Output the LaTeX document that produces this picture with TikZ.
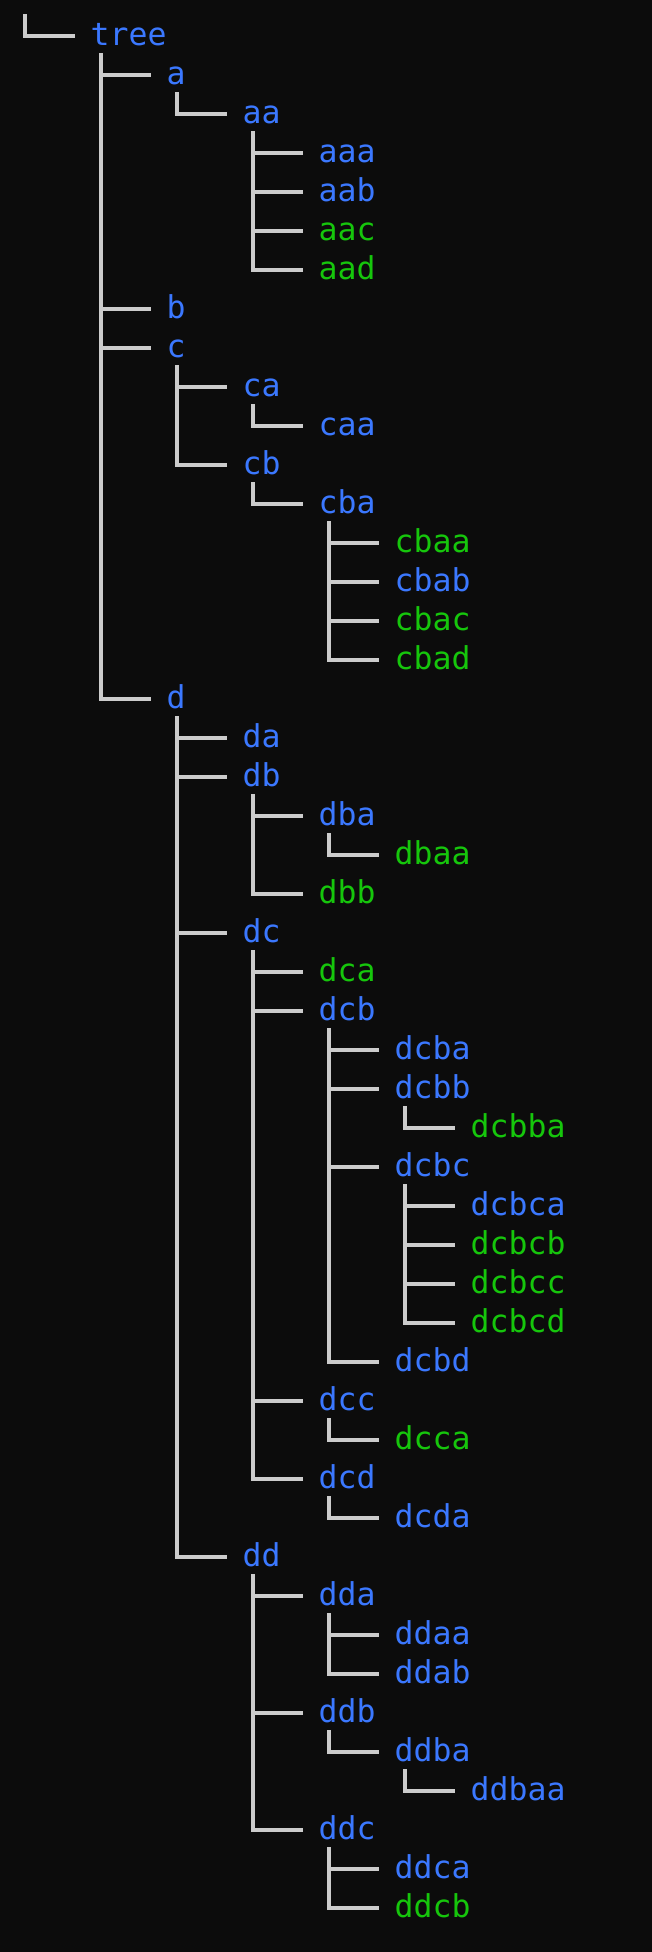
\documentclass[tikz,border=0pt]{standalone}
\usepackage{fontspec}
\setmonofont{DejaVu Sans Mono}
\definecolor{bg}{HTML}{0C0C0C}
\definecolor{dirblue}{HTML}{3B78FF}
\definecolor{exegreen}{HTML}{16C60C}
\definecolor{linegray}{HTML}{CCCCCC}
\begin{document}
\begin{tikzpicture}[x=1pt,y=1pt,
  entry/.style={inner sep=0pt, outer sep=0pt, anchor=base west, font=\ttfamily\fontsize{31.5}{39}\selectfont},
  dir/.style={entry, text=dirblue},
  exe/.style={entry, text=exegreen},
  conn/.style={draw=linegray, line width=3.5pt, line cap=butt, line join=miter}]
\fill[bg] (0,0) rectangle (652,-1952);
\useasboundingbox (0,0) rectangle (652,-1952);
\coordinate (origin) at (25,-14);
\foreach \n/\l/\r/\s in {tree/0/0/dir, a/1/1/dir, aa/2/2/dir, aaa/3/3/dir, aab/3/4/dir, aac/3/5/exe, aad/3/6/exe,
  b/1/7/dir, c/1/8/dir, ca/2/9/dir, caa/3/10/dir, cb/2/11/dir, cba/3/12/dir, cbaa/4/13/exe, cbab/4/14/dir, cbac/4/15/exe, cbad/4/16/exe,
  d/1/17/dir, da/2/18/dir, db/2/19/dir, dba/3/20/dir, dbaa/4/21/exe, dbb/3/22/exe,
  dc/2/23/dir, dca/3/24/exe, dcb/3/25/dir, dcba/4/26/dir, dcbb/4/27/dir, dcbba/5/28/exe, dcbc/4/29/dir,
  dcbca/5/30/dir, dcbcb/5/31/exe, dcbcc/5/32/exe, dcbcd/5/33/exe, dcbd/4/34/dir, dcc/3/35/dir, dcca/4/36/exe,
  dcd/3/37/dir, dcda/4/38/dir, dd/2/39/dir, dda/3/40/dir, ddaa/4/41/dir, ddab/4/42/dir, ddb/3/43/dir,
  ddba/4/44/dir, ddbaa/5/45/dir, ddc/3/46/dir, ddca/4/47/dir, ddcb/4/48/exe}
{
  \node[\s] (n-\n) at ({90.7+76*\l},{-(45.3+39*\r)}) {\n};
}
\draw[conn] (origin) |- ([xshift=-16pt,yshift=9.3pt]n-tree.base west);
\foreach \c/\p in {a/tree, aa/a, aaa/aa, aab/aa, aac/aa, aad/aa,
  b/tree, c/tree, ca/c, caa/ca, cb/c, cba/cb, cbaa/cba, cbab/cba, cbac/cba, cbad/cba,
  d/tree, da/d, db/d, dba/db, dbaa/dba, dbb/db,
  dc/d, dca/dc, dcb/dc, dcba/dcb, dcbb/dcb, dcbba/dcbb, dcbc/dcb,
  dcbca/dcbc, dcbcb/dcbc, dcbcc/dcbc, dcbcd/dcbc, dcbd/dcb, dcc/dc, dcca/dcc,
  dcd/dc, dcda/dcd, dd/d, dda/dd, ddaa/dda, ddab/dda, ddb/dd,
  ddba/ddb, ddbaa/ddba, ddc/dd, ddca/ddc, ddcb/ddc}
{
  \draw[conn] ([xshift=10.3pt,yshift=-7.7pt]n-\p.base west) |- ([xshift=-16pt,yshift=9.3pt]n-\c.base west);
}
\end{tikzpicture}
\end{document}
